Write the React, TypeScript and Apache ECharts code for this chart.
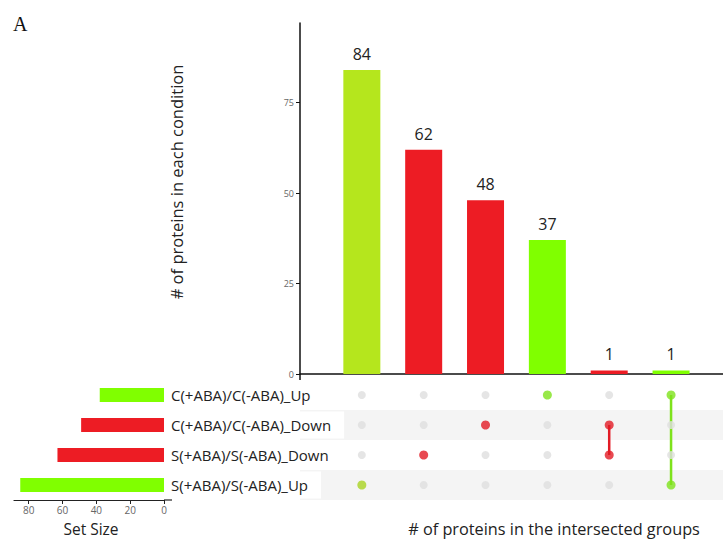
import React, { useEffect, useRef } from "react";
import * as echarts from "echarts";

const sets = [
  "C(+ABA)/C(-ABA)_Up",
  "C(+ABA)/C(-ABA)_Down",
  "S(+ABA)/S(-ABA)_Down",
  "S(+ABA)/S(-ABA)_Up",
];
const setSizes = [38, 49, 63, 85];
const setColors = ["#80ff00", "#ed1c24", "#ed1c24", "#80ff00"];

const intersectionSizes = [84, 62, 48, 37, 1, 1];
const intersectionMembers = [[3], [2], [1], [0], [1, 2], [0, 3]];
const barColors = ["#b5e61d", "#ed1c24", "#ed1c24", "#80ff00", "#ed1c24", "#80ff00"];
const dotColors = ["#a9d322", "#e21b25", "#e21b25", "#7ee21c", "#e21b25", "#7ee21c"];

const barTicks = [0, 25, 50, 75];
const setTicks = [0, 20, 40, 60, 80];

const FONT = "Open Sans";

export default function App() {
  const ref = useRef<HTMLDivElement>(null);
  useEffect(() => {
    if (!ref.current) return;
    const chart = echarts.init(ref.current, null, { renderer: "svg" });
    const xs = intersectionSizes.map((_, i) => i + 1);

    const grayDots: any[] = [];
    const colorDots: any[] = [];
    const lineSeries: any[] = [];
    xs.forEach((x, i) => {
      sets.forEach((s, j) => {
        if (!intersectionMembers[i].includes(j)) grayDots.push([x, s]);
      });
      intersectionMembers[i].forEach((j) => {
        colorDots.push({ value: [x, sets[j]], itemStyle: { color: dotColors[i] } });
      });
      if (intersectionMembers[i].length > 1) {
        const m = intersectionMembers[i];
        lineSeries.push({
          type: "line",
          xAxisIndex: 1,
          yAxisIndex: 1,
          data: [
            [x, sets[Math.min(...m)]],
            [x, sets[Math.max(...m)]],
          ],
          symbol: "none",
          lineStyle: { color: dotColors[i], width: 2.5 },
          z: 3,
          silent: true,
        });
      }
    });

    const option: any = {
      animation: false,
      backgroundColor: "#ffffff",
      textStyle: { fontFamily: FONT },
      grid: [
        { left: 300, right: 0, top: 23, height: 351 },
        { left: 300, right: 0, top: 380, height: 120 },
        { left: 14, width: 150, top: 380, height: 120 },
      ],
      xAxis: [
        {
          type: "value",
          gridIndex: 0,
          min: 0,
          max: 6.84,
          axisLine: { show: true, onZero: false, lineStyle: { color: "#111", width: 1.5 } },
          axisTick: { show: false },
          axisLabel: { show: false },
          splitLine: { show: false },
        },
        {
          type: "value",
          gridIndex: 1,
          min: 0,
          max: 6.84,
          show: false,
        },
        {
          type: "value",
          gridIndex: 2,
          inverse: true,
          min: 0,
          max: 88.7,
          interval: 20,
          axisLine: { show: true, lineStyle: { color: "#222", width: 1.2 } },
          axisTick: { show: true, length: 4, lineStyle: { color: "#222" }, customValues: setTicks },
          axisLabel: {
            color: "#666",
            fontSize: 10,
            margin: 5,
            fontFamily: FONT,
            customValues: setTicks,
          },
          splitLine: { show: false },
        },
      ],
      yAxis: [
        {
          type: "value",
          gridIndex: 0,
          min: 0,
          max: 97,
          interval: 25,
          axisLine: { show: true, lineStyle: { color: "#111", width: 1.5 } },
          axisTick: { show: true, length: 4, lineStyle: { color: "#111" }, customValues: barTicks },
          axisLabel: {
            color: "#666",
            fontSize: 9,
            margin: 6,
            fontFamily: FONT,
            customValues: barTicks,
          },
          splitLine: { show: false },
        },
        {
          type: "category",
          gridIndex: 1,
          data: sets,
          inverse: true,
          axisLine: { show: false },
          axisTick: { show: false },
          axisLabel: {
            show: true,
            align: "left",
            margin: 131,
            color: "#222",
            fontSize: 15,
            fontFamily: FONT,
            backgroundColor: "#ffffff",
            padding: [5, 13, 7, 2],
          },
          splitArea: {
            show: true,
            areaStyle: { color: ["#ffffff", "#f4f4f4"] },
          },
          splitLine: { show: false },
          z: 1,
        },
        {
          type: "category",
          gridIndex: 2,
          data: sets,
          inverse: true,
          show: false,
        },
      ],
      series: [
        {
          type: "bar",
          xAxisIndex: 0,
          yAxisIndex: 0,
          barWidth: 37,
          data: intersectionSizes.map((v, i) => ({
            value: [xs[i], v],
            itemStyle: { color: barColors[i] },
          })),
          label: {
            show: true,
            position: "top",
            distance: 8,
            color: "#222",
            fontSize: 16,
            fontFamily: FONT,
            formatter: (p: any) => String(p.value[1]),
          },
        },
        ...lineSeries,
        {
          type: "scatter",
          xAxisIndex: 1,
          yAxisIndex: 1,
          data: grayDots,
          symbolSize: 8,
          itemStyle: { color: "#dedede", opacity: 0.8 },
          z: 4,
          silent: true,
        },
        {
          type: "scatter",
          xAxisIndex: 1,
          yAxisIndex: 1,
          data: colorDots,
          symbolSize: 9,
          z: 5,
          silent: true,
        },
        {
          type: "bar",
          xAxisIndex: 2,
          yAxisIndex: 2,
          barWidth: 14,
          data: setSizes.map((v, i) => ({ value: v, itemStyle: { color: setColors[i] } })),
        },
      ],
      graphic: [
        {
          type: "text",
          left: 13,
          top: 14,
          style: { text: "A", fontFamily: "Liberation Serif", fontSize: 20, fill: "#111" },
        },
        {
          type: "text",
          x: 176,
          y: 182,
          rotation: Math.PI / 2,
          style: {
            text: "# of proteins in each condition",
            fontFamily: FONT,
            fontSize: 16.5,
            fill: "#222",
            align: "center",
            verticalAlign: "middle",
          },
        },
        {
          type: "text",
          x: 91,
          y: 529,
          style: {
            text: "Set Size",
            fontFamily: FONT,
            fontSize: 15.5,
            fill: "#222",
            align: "center",
            verticalAlign: "middle",
          },
        },
        {
          type: "text",
          x: 554,
          y: 529,
          style: {
            text: "# of proteins in the intersected groups",
            fontFamily: FONT,
            fontSize: 16.3,
            fill: "#222",
            align: "center",
            verticalAlign: "middle",
          },
        },
        {
          type: "line",
          shape: { x1: 300, y1: 374, x2: 300, y2: 380 },
          style: { stroke: "#111", lineWidth: 1.5 },
        },
        {
          type: "line",
          shape: { x1: 164, y1: 500, x2: 172, y2: 500 },
          style: { stroke: "#222", lineWidth: 1.2 },
        },
      ],
    };
    chart.setOption(option);
    return () => chart.dispose();
  }, []);
  return (
    <div
      ref={ref}
      style={{ position: "absolute", left: 0, top: 0, width: 723, height: 541 }}
    />
  );
}
